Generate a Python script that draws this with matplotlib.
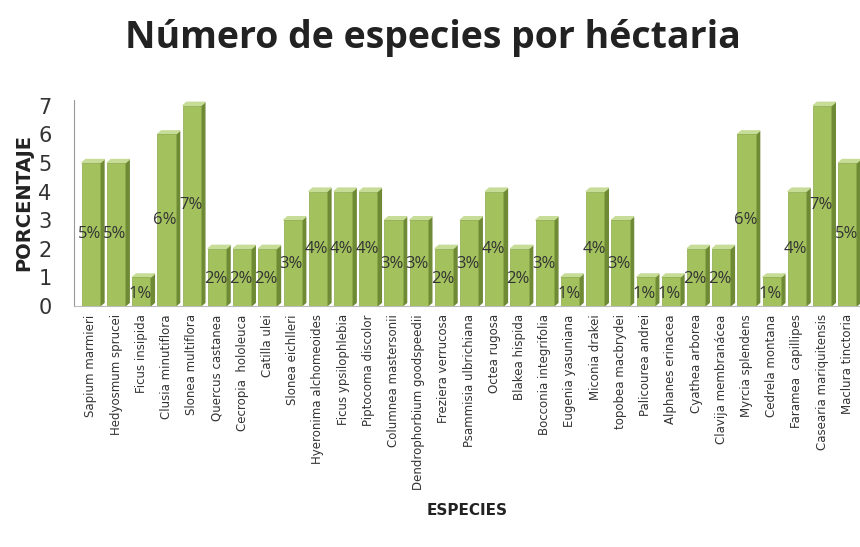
import numpy as np
import matplotlib.pyplot as plt

especies = ['Sapium marmieri', 'Hedyosmum sprucei', 'Ficus insipida', 'Clusia minutiflora',
            'Slonea multiflora', 'Quercus castanea', 'Cecropia  hololeuca', 'Catilla ulei',
            'Slonea eichlleri', 'Hyeronima alchomeoides', 'Ficus ypsilophlebia',
            'Piptocoma discolor', 'Columnea mastersonii', 'Dendrophorbium goodspeedii',
            'Freziera verrucosa', 'Psammisia ulbrichiana', 'Octea rugosa', 'Blakea hispida',
            'Bocconia integrifolia', 'Eugenia yasuniana', 'Miconia drakei',
            'topobea macbrydei', 'Palicourea andrei', 'Alphanes erinacea', 'Cyathea arborea',
            'Clavija membranácea', 'Myrcia splendens', 'Cedrela montana',
            'Faramea  capillipes', 'Casearia mariquitensis', 'Maclura tinctoria']
porcentaje = [5, 5, 1, 6, 7, 2, 2, 2, 3, 4, 4, 4, 3, 3, 2, 3, 4, 2, 3, 1, 4, 3, 1, 1, 2, 2,
              6, 1, 4, 7, 5]

front = '#a3c25e'
side = '#6f8a35'
top = '#c6dc97'

fig = plt.figure(figsize=(8.6, 5.47), dpi=100)
ax = fig.add_axes([0.086, 0.4406, 0.914, 0.3766])

x = np.arange(len(especies))
w = 0.72
d, dy = 0.16, 0.12
ax.bar(x, porcentaje, width=w, color=front, edgecolor='#8aa84a', linewidth=0.5, zorder=3)
for xi, v in zip(x, porcentaje):
    r = xi + w / 2
    l = xi - w / 2
    # lado y tapa para el efecto 3D
    ax.fill([r, r + d, r + d, r], [0, dy, v + dy, v], color=side, zorder=2)
    ax.fill([l, l + d, r + d, r], [v, v + dy, v + dy, v], color=top, zorder=2)
    ax.text(xi - 0.05, v * 0.52 - 0.1, '%d%%' % v, ha='center', va='center',
            fontsize=12, color='#333333', family='Open Sans', zorder=5)

ax.set_xlim(-0.67, 30.5)
ax.set_ylim(0, 7.2)
ax.set_yticks(range(8))
ax.tick_params(axis='y', length=0, pad=16, labelsize=15, labelcolor='#333333')
ax.set_xticks(x)
ax.set_xticklabels(especies, rotation=90, fontsize=8.5, color='#333333')
ax.tick_params(axis='x', length=0, pad=6)
for s in ['top', 'right']:
    ax.spines[s].set_visible(False)
ax.spines['left'].set_color('#999999')
ax.spines['bottom'].set_color('#bbbbbb')

ax.set_ylabel('PORCENTAJE', fontsize=14, fontweight='bold', color='#222222', labelpad=4)
fig.text(0.543, 0.067, 'ESPECIES', ha='center', va='center', fontsize=11,
         fontweight='bold', color='#222222')
fig.text(0.503, 0.93, 'Número de especies por héctaria', ha='center', va='center',
         fontsize=27, fontweight='bold', color='#222222', family='Open Sans')

fig.savefig('out.png', dpi=100)
